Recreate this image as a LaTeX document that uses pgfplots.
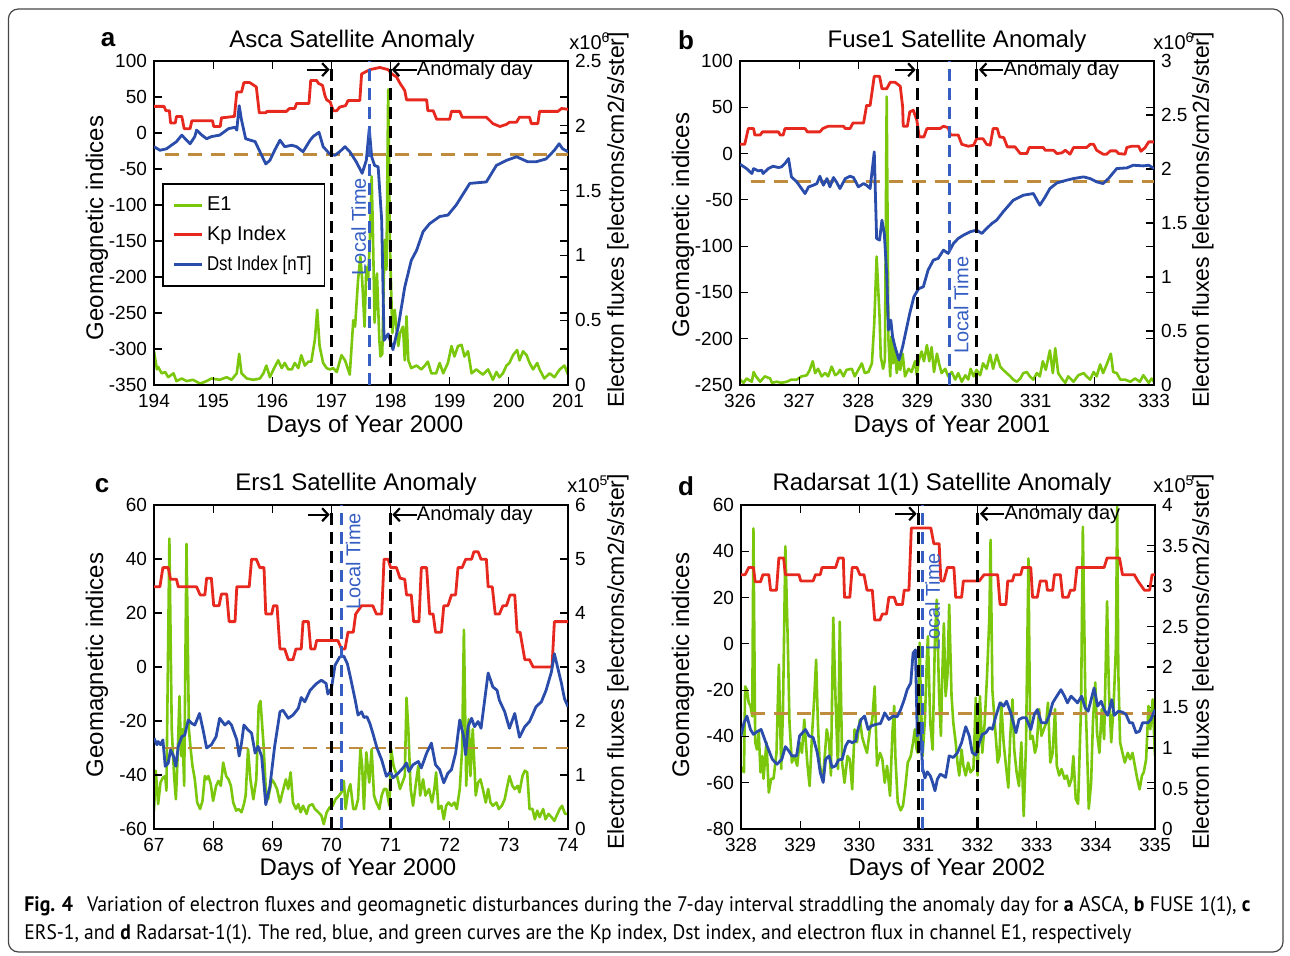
\documentclass[border=0pt]{standalone}
\usepackage{fontspec}
\setmainfont{Liberation Sans}
\newfontfamily\capfont{PT Sans}
\usepackage{graphicx}
\usepackage{pgfplots}
\pgfplotsset{compat=1.18}
\usetikzlibrary{arrows.meta}

\definecolor{kpred}{RGB}{230,40,30}
\definecolor{dstblue}{RGB}{42,76,170}
\definecolor{eonegreen}{RGB}{122,199,12}
\definecolor{thrbrown}{RGB}{190,140,60}
\definecolor{ltblue}{RGB}{55,95,195}
\definecolor{framegray}{RGB}{70,70,70}

\tikzset{
  e1/.style={eonegreen, line width=1.3pt, line join=round},
  kp/.style={kpred, line width=1.4pt, line join=round},
  dst/.style={dstblue, line width=1.4pt, line join=round},
  blackdash/.style={black, line width=1.5pt, dash pattern=on 6pt off 3.5pt},
  bluedash/.style={ltblue, line width=1.5pt, dash pattern=on 6pt off 3.5pt},
  browndash/.style={thrbrown, line width=1.4pt, dash pattern=on 7pt off 4.5pt},
  arr/.style={black, line width=1.1pt, -{Straight Barb[length=3pt,width=6.5pt]}},
}
\pgfplotsset{
  base/.style={scale only axis, width=207pt, height=162pt, anchor=south west,
    tick label style={font=\fontsize{9.5}{10}\selectfont},
    xticklabel style={yshift=-1.2pt},
    /pgf/number format/assume math mode=true,
    scaled ticks=false, major tick length=4pt,
    tick style={black, line width=0.6pt},
    axis line style={black, line width=0.7pt},
    tick align=inside, clip=true},
  rightax/.style={base, axis x line=none, axis y line*=right},
  leftax/.style={base},
}
\newcommand{\annfont}{\fontsize{10}{12}\selectfont}
\newcommand{\titfont}{\fontsize{12}{14}\selectfont}
\newcommand{\labfont}{\fontsize{12}{14}\selectfont}
\newcommand{\rlabfont}{\fontsize{11.5}{13}\selectfont}

\begin{document}
\begin{tikzpicture}
\useasboundingbox (0pt,0pt) rectangle (645pt,478pt);
\draw[framegray, line width=0.6pt, rounded corners=5pt] (4.2pt,2pt) rectangle (641.5pt,473.5pt);

%================ Panel a ================
\begin{axis}[rightax, at={(77pt,285.5pt)}, xmin=194, xmax=201, ymin=0, ymax=2.5,
  ytick={0,0.5,1,1.5,2,2.5}, yticklabels={0,0.5,1,1.5,2,2.5}]
\addplot[e1] coordinates {(194.00,0.26)(194.05,0.12)(194.07,0.14)(194.13,0.09)(194.19,0.10)(194.24,0.06)(194.33,0.09)(194.38,0.03)(194.47,0.05)(194.55,0.03)(194.66,0.04)(194.78,0.01)(194.89,0.03)(194.97,0.05)(195.11,0.04)(195.23,0.06)(195.31,0.04)(195.40,0.09)(195.44,0.24)(195.48,0.09)(195.57,0.05)(195.68,0.04)(195.79,0.05)(195.85,0.09)(195.90,0.15)(195.96,0.06)(196.02,0.12)(196.10,0.19)(196.16,0.13)(196.21,0.17)(196.27,0.12)(196.33,0.12)(196.38,0.17)(196.44,0.13)(196.49,0.23)(196.55,0.15)(196.61,0.18)(196.66,0.18)(196.72,0.35)(196.76,0.58)(196.80,0.30)(196.86,0.17)(196.92,0.13)(196.97,0.12)(197.03,0.13)(197.09,0.10)(197.17,0.23)(197.23,0.19)(197.31,0.08)(197.37,0.50)(197.40,0.45)(197.45,0.81)(197.49,0.99)(197.52,0.81)(197.56,0.45)(197.59,0.91)(197.62,0.81)(197.65,1.12)(197.68,1.61)(197.70,1.22)(197.73,0.48)(197.77,0.86)(197.81,0.35)(197.83,0.22)(197.86,0.24)(197.90,1.12)(197.93,0.89)(197.96,2.28)(197.99,1.07)(198.03,0.40)(198.07,0.58)(198.13,0.30)(198.16,0.40)(198.21,0.45)(198.24,0.19)(198.27,0.53)(198.30,0.19)(198.35,0.13)(198.44,0.15)(198.52,0.12)(198.58,0.15)(198.63,0.18)(198.69,0.09)(198.77,0.09)(198.83,0.17)(198.89,0.09)(198.97,0.17)(199.03,0.30)(199.08,0.22)(199.14,0.30)(199.20,0.31)(199.25,0.22)(199.31,0.26)(199.37,0.09)(199.45,0.12)(199.56,0.08)(199.65,0.12)(199.73,0.04)(199.79,0.10)(199.84,0.06)(199.90,0.09)(199.96,0.15)(200.01,0.17)(200.07,0.23)(200.14,0.27)(200.18,0.19)(200.24,0.26)(200.30,0.23)(200.35,0.17)(200.41,0.12)(200.48,0.17)(200.52,0.12)(200.60,0.05)(200.69,0.09)(200.77,0.06)(200.86,0.12)(200.94,0.15)(201.00,0.08)};
\end{axis}
\begin{axis}[leftax, at={(77pt,285.5pt)}, xmin=194, xmax=201, ymin=-350, ymax=100,
  xtick={194,...,201}, ytick={-350,-300,...,100},
  legend style={at={(0.0205,0.623)}, anchor=north west, draw=black, line width=0.8pt,
    font=\fontsize{10}{12}\selectfont, row sep=2.1pt, inner xsep=4.5pt, inner ysep=4.5pt},
  legend cell align=left,
  legend image code/.code={\draw[#1] (0pt,0pt) -- (14pt,0pt);}]
\addlegendimage{e1}\addlegendentry{E1}
\addlegendimage{kp}\addlegendentry{Kp Index}
\addlegendimage{dst}\addlegendentry{\scalebox{0.84}[1]{Dst Index [nT]}}
\draw[browndash] (axis cs:194.19,-30) -- (axis cs:201,-30);
\addplot[kp] coordinates {(194.00,37)(194.17,37)(194.20,31)(194.26,31)(194.28,14)(194.36,14)(194.38,23)(194.47,23)(194.51,6)(194.61,6)(194.64,17)(194.99,17)(195.01,9)(195.12,9)(195.14,21)(195.36,23)(195.40,57)(195.48,57)(195.52,70)(195.62,70)(195.73,64)(195.78,28)(195.89,28)(195.91,30)(196.24,30)(196.29,34)(196.38,34)(196.41,41)(196.62,41)(196.65,73)(196.75,73)(196.78,69)(196.85,66)(196.89,52)(196.92,46)(196.98,43)(197.03,31)(197.09,31)(197.14,36)(197.24,38)(197.28,45)(197.48,45)(197.51,82)(197.65,88)(197.82,91)(197.96,88)(198.02,82)(198.10,78)(198.16,69)(198.24,59)(198.27,46)(198.38,46)(198.61,46)(198.63,31)(198.72,31)(198.78,19)(199.00,19)(199.03,30)(199.17,30)(199.21,22)(199.62,22)(199.73,13)(199.85,9)(199.96,12)(200.01,15)(200.13,15)(200.18,22)(200.35,22)(200.38,13)(200.49,13)(200.52,30)(200.83,30)(200.89,34)(201.00,33)};
\addplot[dst] coordinates {(194.00,-19)(194.10,-24)(194.21,-22)(194.38,-12)(194.47,-3)(194.55,-10)(194.61,-15)(194.69,-5)(194.72,4)(194.81,-3)(194.89,-8)(194.97,-5)(195.11,-3)(195.26,6)(195.37,8)(195.40,4)(195.44,38)(195.48,18)(195.55,-8)(195.71,-12)(195.82,-31)(195.89,-43)(195.96,-38)(196.04,-24)(196.13,-10)(196.21,-19)(196.33,-17)(196.41,-19)(196.52,-26)(196.64,-10)(196.69,-5)(196.79,1)(196.86,-19)(196.97,-29)(197.06,-31)(197.14,-26)(197.23,-19)(197.31,-26)(197.42,-40)(197.52,-56)(197.59,-38)(197.64,6)(197.68,-33)(197.73,-45)(197.79,-47)(197.85,-121)(197.89,-288)(197.96,-279)(198.04,-301)(198.13,-269)(198.24,-214)(198.35,-177)(198.44,-163)(198.55,-137)(198.66,-126)(198.83,-116)(198.97,-114)(199.11,-100)(199.34,-70)(199.62,-68)(199.79,-45)(199.96,-38)(200.13,-33)(200.32,-40)(200.46,-40)(200.63,-36)(200.77,-24)(200.85,-15)(200.91,-22)(201.00,-26)};
\draw[blackdash] (axis cs:197,-350) -- (axis cs:197,100);
\draw[blackdash] (axis cs:198,-350) -- (axis cs:198,100);
\draw[bluedash] (axis cs:197.65,-350) -- (axis cs:197.65,100);
\draw[arr] (axis cs:196.58,88) -- (axis cs:196.97,88);
\draw[arr] (axis cs:198.44,88) -- (axis cs:198.02,88);
\node[anchor=west, inner sep=0pt, font=\annfont] at (axis cs:198.44,87) {Anomaly day};
\node[rotate=90, inner sep=0pt, font=\annfont, text=ltblue] at (axis cs:197.46,-130) {Local Time};
\end{axis}

%================ Panel b ================
\begin{axis}[rightax, at={(370pt,285.5pt)}, xmin=326, xmax=333, ymin=0, ymax=3,
  ytick={0,0.5,1,1.5,2,2.5,3}, yticklabels={0,0.5,1,1.5,2,2.5,3}]
\addplot[e1] coordinates {(326.00,0.05)(326.06,0.02)(326.11,0.06)(326.20,0.03)(326.23,0.12)(326.27,0.08)(326.34,0.03)(326.42,0.08)(326.51,0.06)(326.54,0.02)(326.62,0.03)(326.70,0.02)(326.79,0.03)(326.87,0.05)(326.96,0.05)(327.04,0.08)(327.13,0.09)(327.18,0.14)(327.23,0.22)(327.27,0.11)(327.32,0.15)(327.38,0.08)(327.44,0.11)(327.49,0.08)(327.55,0.17)(327.61,0.09)(327.66,0.11)(327.69,0.14)(327.75,0.08)(327.80,0.14)(327.89,0.15)(327.94,0.08)(328.00,0.14)(328.06,0.20)(328.11,0.11)(328.17,0.12)(328.23,0.20)(328.27,0.57)(328.31,1.19)(328.36,0.63)(328.38,0.26)(328.42,0.15)(328.45,0.23)(328.48,2.67)(328.51,0.42)(328.54,0.08)(328.56,0.45)(328.59,0.20)(328.62,0.35)(328.65,0.11)(328.68,0.23)(328.71,0.14)(328.75,0.29)(328.79,0.08)(328.85,0.15)(328.90,0.12)(328.96,0.22)(328.99,0.09)(329.02,0.22)(329.07,0.31)(329.11,0.22)(329.16,0.37)(329.20,0.22)(329.24,0.35)(329.28,0.12)(329.33,0.29)(329.37,0.19)(329.41,0.11)(329.47,0.15)(329.52,0.08)(329.58,0.12)(329.64,0.05)(329.69,0.11)(329.75,0.03)(329.81,0.09)(329.86,0.05)(329.90,0.15)(329.95,0.08)(330.00,0.14)(330.06,0.09)(330.11,0.20)(330.17,0.15)(330.23,0.28)(330.28,0.15)(330.34,0.28)(330.40,0.17)(330.45,0.14)(330.51,0.11)(330.57,0.08)(330.62,0.05)(330.68,0.03)(330.74,0.06)(330.79,0.11)(330.85,0.12)(330.90,0.08)(330.96,0.05)(331.02,0.11)(331.07,0.08)(331.12,0.22)(331.17,0.14)(331.24,0.32)(331.29,0.11)(331.33,0.34)(331.38,0.11)(331.44,0.06)(331.50,0.02)(331.55,0.08)(331.64,0.03)(331.72,0.09)(331.81,0.11)(331.86,0.08)(331.92,0.05)(331.98,0.12)(332.03,0.08)(332.09,0.19)(332.14,0.11)(332.20,0.19)(332.27,0.29)(332.31,0.12)(332.37,0.11)(332.43,0.05)(332.51,0.05)(332.60,0.03)(332.68,0.06)(332.76,0.03)(332.82,0.09)(332.91,0.02)(332.96,0.06)(333.00,0.03)};
\end{axis}
\begin{axis}[leftax, at={(370pt,285.5pt)}, xmin=326, xmax=333, ymin=-250, ymax=100,
  xtick={326,...,333}, ytick={-250,-200,...,100}]
\draw[browndash] (axis cs:326.18,-30) -- (axis cs:333,-30);
\addplot[kp] coordinates {(326.00,10)(326.08,10)(326.14,27)(326.23,27)(326.25,20)(326.34,20)(326.38,23.4)(326.65,23.4)(326.68,20)(326.73,20)(326.76,27)(327.10,27)(327.14,23.4)(327.35,23.4)(327.40,27)(327.49,29.5)(327.75,29.5)(327.78,27)(327.86,27)(327.91,33)(328.09,33)(328.14,52)(328.20,52)(328.27,83.5)(328.36,83.5)(328.40,70)(328.48,70)(328.54,77)(328.62,77)(328.71,72.7)(328.75,50.4)(328.76,29.5)(328.83,29.5)(328.87,45)(328.93,46.8)(328.99,36)(329.03,18)(329.11,18)(329.16,27)(329.38,27)(329.44,29.5)(329.52,28)(329.56,20)(329.69,20)(329.75,10)(329.86,7.9)(329.95,9)(330.00,16)(330.11,16)(330.17,10)(330.23,9)(330.28,27)(330.35,27)(330.39,18)(330.46,17.3)(330.52,7.2)(330.65,7.2)(330.74,0)(330.85,0)(330.89,6.5)(331.13,6.5)(331.16,3.6)(331.30,3.6)(331.36,0)(331.44,0.7)(331.50,3.6)(331.58,-0.7)(331.64,6.5)(331.86,6.5)(331.92,10)(331.98,10)(332.03,3.6)(332.14,-0.7)(332.20,-0.7)(332.26,2.9)(332.36,2.9)(332.40,0)(332.51,-0.7)(332.54,6.5)(332.62,7.9)(332.74,7.9)(332.78,2.5)(332.85,6.5)(332.91,12.6)(333.00,12.6)};
\addplot[dst] coordinates {(326.00,-11.5)(326.11,-16.2)(326.20,-21.6)(326.23,-16.2)(326.31,-18.7)(326.37,-18)(326.39,-21.6)(326.48,-16.2)(326.56,-13.7)(326.65,-15.1)(326.70,-14.4)(326.76,-10.8)(326.82,-5.4)(326.87,-25.2)(326.96,-30.6)(327.04,-37.8)(327.10,-43.2)(327.16,-36)(327.24,-34.2)(327.30,-32.4)(327.35,-24.5)(327.41,-34.2)(327.47,-27)(327.52,-36)(327.58,-25.9)(327.63,-30.6)(327.69,-37.8)(327.78,-27)(327.86,-24.5)(327.92,-25.9)(328.00,-36)(328.09,-32.4)(328.14,-34.2)(328.20,-37.8)(328.27,1.8)(328.31,-91.7)(328.36,-93.5)(328.40,-71.9)(328.44,-86.3)(328.48,-129.5)(328.51,-190.6)(328.55,-179.9)(328.58,-197.8)(328.62,-208.6)(328.69,-223)(328.75,-208.6)(328.81,-190.6)(328.87,-172.7)(328.94,-154.7)(329.02,-146)(329.10,-143.9)(329.18,-125.9)(329.27,-115.1)(329.35,-113.3)(329.44,-104.3)(329.52,-107.9)(329.61,-97.1)(329.69,-91.7)(329.78,-88.1)(329.89,-84.5)(330.00,-82.7)(330.09,-86.3)(330.17,-80.9)(330.26,-75.5)(330.34,-71.9)(330.45,-62.9)(330.62,-50.4)(330.79,-45)(330.96,-43.2)(331.07,-55.8)(331.16,-46.8)(331.24,-37.8)(331.36,-31.7)(331.52,-28.8)(331.64,-27)(331.81,-25.2)(331.92,-27)(332.03,-30.6)(332.14,-32.4)(332.23,-27)(332.37,-16.2)(332.54,-15.5)(332.65,-12.6)(332.82,-13.3)(332.91,-12.6)(333.00,-16.2)};
\draw[blackdash] (axis cs:329,-250) -- (axis cs:329,100);
\draw[blackdash] (axis cs:330,-250) -- (axis cs:330,100);
\draw[bluedash] (axis cs:329.54,-250) -- (axis cs:329.54,100);
\draw[arr] (axis cs:328.62,90.5) -- (axis cs:328.97,90.5);
\draw[arr] (axis cs:330.45,90.5) -- (axis cs:330.04,90.5);
\node[anchor=west, inner sep=0pt, font=\annfont] at (axis cs:330.45,89.5) {Anomaly day};
\node[rotate=90, inner sep=0pt, font=\annfont, text=ltblue] at (axis cs:329.74,-164) {Local Time};
\end{axis}

%================ Panel c ================
\begin{axis}[rightax, at={(77pt,63.5pt)}, xmin=67, xmax=74, ymin=0, ymax=6,
  ytick={0,1,2,3,4,5,6}, yticklabels={0,1,2,3,4,5,6}]
\addplot[e1] coordinates {(67.00,0.34)(67.03,1.08)(67.07,0.46)(67.11,0.86)(67.15,0.95)(67.19,0.98)(67.21,0.71)(67.26,5.38)(67.30,1.85)(67.34,0.98)(67.37,0.55)(67.40,1.35)(67.43,2.46)(67.46,1.35)(67.48,1.85)(67.51,0.80)(67.55,5.28)(67.59,1.85)(67.62,1.48)(67.65,1.17)(67.69,0.92)(67.73,0.49)(67.78,0.37)(67.82,0.52)(67.86,0.98)(67.89,0.92)(67.92,0.98)(67.96,0.83)(68.00,0.52)(68.05,0.80)(68.09,0.89)(68.13,0.80)(68.17,1.23)(68.22,0.98)(68.26,0.92)(68.30,0.80)(68.34,0.49)(68.39,0.34)(68.43,0.37)(68.48,0.31)(68.52,0.46)(68.55,0.62)(68.59,1.48)(68.63,0.92)(68.68,0.55)(68.73,0.92)(68.77,2.28)(68.80,2.37)(68.85,1.60)(68.89,0.74)(68.93,0.55)(68.99,0.92)(69.03,0.86)(69.08,0.74)(69.13,0.49)(69.18,0.71)(69.23,0.92)(69.27,0.74)(69.31,1.05)(69.35,0.49)(69.40,0.37)(69.44,0.46)(69.48,0.31)(69.52,0.43)(69.58,0.28)(69.62,0.43)(69.68,0.46)(69.72,0.37)(69.78,0.31)(69.83,0.25)(69.87,0.09)(69.92,0.31)(69.97,0.40)(70.02,0.43)(70.07,0.55)(70.13,0.62)(70.17,0.68)(70.21,0.89)(70.24,0.37)(70.28,0.68)(70.32,0.83)(70.37,0.37)(70.41,0.37)(70.45,0.55)(70.49,1.48)(70.52,1.17)(70.55,0.37)(70.59,1.42)(70.64,0.86)(70.68,1.48)(70.72,0.62)(70.76,0.49)(70.81,0.37)(70.85,0.62)(70.89,0.74)(70.93,0.74)(70.98,0.43)(71.01,1.48)(71.05,1.17)(71.11,0.98)(71.16,0.74)(71.20,0.86)(71.24,0.98)(71.27,2.43)(71.30,1.85)(71.34,0.74)(71.38,0.43)(71.43,0.86)(71.47,1.17)(71.50,0.62)(71.55,0.92)(71.59,0.62)(71.65,0.74)(71.70,0.49)(71.74,0.74)(71.77,1.05)(71.81,0.37)(71.86,0.43)(71.90,0.18)(71.94,0.43)(71.98,0.49)(72.03,0.43)(72.08,0.49)(72.12,0.37)(72.17,0.74)(72.21,1.48)(72.24,3.69)(72.28,0.80)(72.32,2.03)(72.35,0.98)(72.39,1.85)(72.44,0.62)(72.48,0.86)(72.52,0.92)(72.56,0.74)(72.61,0.49)(72.65,0.74)(72.69,0.49)(72.73,0.43)(72.79,0.49)(72.83,0.37)(72.88,0.43)(72.93,0.55)(72.97,0.77)(73.01,0.98)(73.06,0.80)(73.10,0.74)(73.15,0.80)(73.18,0.68)(73.23,0.98)(73.27,1.08)(73.31,1.05)(73.35,0.37)(73.40,0.37)(73.44,0.18)(73.48,0.34)(73.52,0.22)(73.58,0.37)(73.62,0.18)(73.67,0.28)(73.72,0.22)(73.77,0.15)(73.81,0.25)(73.86,0.37)(73.90,0.43)(73.95,0.28)(74.00,0.28)};
\end{axis}
\begin{axis}[leftax, at={(77pt,63.5pt)}, xmin=67, xmax=74, ymin=-60, ymax=60,
  xtick={67,...,74}, ytick={-60,-40,...,60}]
\draw[browndash] (axis cs:67.19,-30) -- (axis cs:74,-30);
\addplot[kp] coordinates {(67.00,29.7)(67.10,29.7)(67.15,36.8)(67.24,36.8)(67.28,32.5)(67.38,32.5)(67.41,29.7)(67.72,29.7)(67.78,26.7)(67.86,26.7)(67.89,32.9)(67.97,32.9)(68.01,22.7)(68.10,22.7)(68.14,27)(68.23,27)(68.27,16.8)(68.37,16.8)(68.40,29.7)(68.61,29.7)(68.65,39.9)(68.73,39.9)(68.79,36.8)(68.86,36.8)(68.89,19.6)(68.99,19.6)(69.02,22.7)(69.08,22.7)(69.13,6.7)(69.21,6.7)(69.27,2.7)(69.35,2.7)(69.40,6.7)(69.49,6.7)(69.52,16.8)(69.61,16.8)(69.65,6.7)(69.72,6.7)(69.75,9.8)(70.11,9.8)(70.17,6.7)(70.23,6.7)(70.28,12.9)(70.37,12.9)(70.41,19.6)(70.51,22.7)(70.70,22.7)(70.76,19.6)(70.85,19.6)(70.89,39.9)(70.96,39.9)(71.00,36.8)(71.10,36.8)(71.16,32.9)(71.24,32.5)(71.27,26.7)(71.35,26.7)(71.39,16.8)(71.48,16.8)(71.52,36.8)(71.61,36.8)(71.66,19.6)(71.72,19.6)(71.76,12.9)(71.86,12.9)(71.90,22.7)(71.97,22.7)(72.03,26.7)(72.10,26.7)(72.14,36.8)(72.21,36.8)(72.27,39.9)(72.37,39.9)(72.41,42.7)(72.48,42.7)(72.53,39.9)(72.62,39.9)(72.65,29.7)(72.72,29.7)(72.77,19.6)(72.84,19.6)(72.90,22.7)(72.96,22.7)(73.02,26.7)(73.10,26.7)(73.14,12.9)(73.19,12.9)(73.27,2.7)(73.35,2.7)(73.41,0)(73.73,0)(73.77,16.8)(74.00,16.8)};
\addplot[dst] coordinates {(67.00,-26.4)(67.05,-28.8)(67.07,-27.6)(67.11,-28.8)(67.15,-27)(67.19,-36.8)(67.24,-35.6)(67.28,-30.7)(67.33,-33.1)(67.37,-36.8)(67.41,-29.4)(67.47,-25.8)(67.52,-25.2)(67.58,-19.6)(67.64,-20.9)(67.69,-21.5)(67.77,-17.2)(67.83,-23.3)(67.89,-30)(67.97,-28.8)(68.05,-25.8)(68.11,-19)(68.20,-21.5)(68.26,-20.2)(68.31,-21.5)(68.40,-27)(68.44,-33)(68.48,-28.2)(68.52,-21.5)(68.59,-23.3)(68.65,-24.5)(68.71,-31.9)(68.76,-29.4)(68.82,-33.1)(68.89,-51)(68.96,-44.2)(69.04,-29.4)(69.13,-16.6)(69.18,-16)(69.27,-19)(69.35,-17.8)(69.44,-15.3)(69.49,-11.3)(69.55,-12.9)(69.64,-8.6)(69.75,-6.1)(69.83,-4.9)(69.91,-6.1)(69.94,-10)(70.00,-8)(70.06,0.6)(70.14,3.7)(70.21,4)(70.27,1.2)(70.32,-3.7)(70.40,-12)(70.45,-17.8)(70.51,-16.6)(70.55,-18.7)(70.60,-18.4)(70.65,-20.9)(70.70,-24.5)(70.77,-30)(70.85,-34.4)(70.93,-40.5)(71.00,-38.7)(71.04,-41.1)(71.13,-39.3)(71.21,-37.4)(71.27,-35.6)(71.31,-38.7)(71.38,-36.2)(71.47,-35)(71.52,-37.4)(71.61,-31.9)(71.69,-28.2)(71.76,-36.2)(71.83,-38)(71.90,-42.9)(71.97,-39.3)(72.03,-38)(72.10,-31.9)(72.17,-19.6)(72.23,-25.2)(72.27,-32.5)(72.31,-22.1)(72.37,-19)(72.42,-22.1)(72.48,-20.2)(72.53,-22.7)(72.65,-2.2)(72.73,-7.4)(72.80,-8.6)(72.84,-12.3)(72.93,-16.6)(73.01,-22.7)(73.10,-17.2)(73.18,-26)(73.27,-22.1)(73.35,-20.2)(73.46,-14.7)(73.55,-12.9)(73.63,-8.6)(73.72,-1.8)(73.77,4.9)(73.83,-0.6)(73.89,-6.1)(73.94,-11.7)(74.00,-14.7)};
\draw[blackdash] (axis cs:70,-60) -- (axis cs:70,60);
\draw[blackdash] (axis cs:71,-60) -- (axis cs:71,60);
\draw[bluedash] (axis cs:70.17,-60) -- (axis cs:70.17,60);
\draw[arr] (axis cs:69.61,56.4) -- (axis cs:69.97,56.4);
\draw[arr] (axis cs:71.44,56.4) -- (axis cs:71.03,56.4);
\node[anchor=west, inner sep=0pt, font=\annfont] at (axis cs:71.44,56) {Anomaly day};
\node[rotate=90, inner sep=0pt, font=\annfont, text=ltblue] at (axis cs:70.37,39.1) {Local Time};
\end{axis}

%================ Panel d ================
\begin{axis}[rightax, at={(370.5pt,63.5pt)}, xmin=328, xmax=335, ymin=0, ymax=4,
  ytick={0,0.5,1,1.5,2,2.5,3,3.5,4}, yticklabels={0,0.5,1,1.5,2,2.5,3,3.5,4}]
\addplot[e1] coordinates {(328.00,0.76)(328.05,0.70)(328.07,1.76)(328.10,1.72)(328.13,1.56)(328.16,1.52)(328.19,1.39)(328.21,3.71)(328.24,1.07)(328.27,0.98)(328.30,1.19)(328.33,0.70)(328.36,0.90)(328.38,0.62)(328.43,1.07)(328.47,0.45)(328.51,0.62)(328.55,0.62)(328.60,0.94)(328.64,2.03)(328.68,0.74)(328.71,1.48)(328.75,3.49)(328.79,2.34)(328.82,1.31)(328.86,0.82)(328.90,0.90)(328.95,0.78)(328.99,1.07)(329.03,0.94)(329.07,1.35)(329.12,0.82)(329.16,0.53)(329.20,1.15)(329.24,1.64)(329.27,2.09)(329.30,1.31)(329.33,0.82)(329.36,0.66)(329.40,0.74)(329.45,1.23)(329.49,1.07)(329.52,0.66)(329.56,2.61)(329.60,1.56)(329.64,0.74)(329.67,2.56)(329.71,0.82)(329.75,0.57)(329.80,0.90)(329.84,0.86)(329.88,0.49)(329.92,1.23)(329.96,1.07)(330.01,1.35)(330.05,1.13)(330.09,1.03)(330.13,0.94)(330.18,1.23)(330.22,1.35)(330.26,1.76)(330.30,0.78)(330.35,0.94)(330.39,0.86)(330.43,0.57)(330.47,0.78)(330.52,0.41)(330.56,1.19)(330.59,1.52)(330.61,0.90)(330.65,0.33)(330.70,0.23)(330.74,0.29)(330.78,0.53)(330.82,0.82)(330.87,0.90)(330.91,1.07)(330.94,1.23)(330.97,0.98)(330.99,0.94)(331.02,2.30)(331.04,1.64)(331.07,0.90)(331.11,1.35)(331.14,2.05)(331.16,2.38)(331.20,1.31)(331.24,0.98)(331.28,2.38)(331.31,2.83)(331.35,1.64)(331.38,1.15)(331.40,1.81)(331.43,2.54)(331.46,1.64)(331.49,1.89)(331.52,2.77)(331.56,1.64)(331.59,1.31)(331.63,1.07)(331.66,0.82)(331.69,0.66)(331.73,0.98)(331.76,0.78)(331.80,0.66)(331.84,0.82)(331.88,0.70)(331.93,0.74)(331.97,1.62)(332.00,0.66)(332.04,1.64)(332.08,0.94)(332.12,1.31)(332.16,1.89)(332.20,2.63)(332.22,3.57)(332.25,1.72)(332.29,1.31)(332.34,0.82)(332.37,0.90)(332.40,1.56)(332.44,1.07)(332.48,0.78)(332.52,0.51)(332.55,1.11)(332.59,1.60)(332.62,0.98)(332.66,0.70)(332.70,0.53)(332.74,1.07)(332.78,0.16)(332.82,1.07)(332.86,3.34)(332.89,1.11)(332.93,1.15)(332.97,0.94)(333.00,1.03)(333.04,1.48)(333.08,1.15)(333.12,1.23)(333.16,1.31)(333.19,1.56)(333.23,0.82)(333.27,0.94)(333.31,1.48)(333.34,0.78)(333.38,0.66)(333.42,0.74)(333.47,0.62)(333.51,0.66)(333.55,0.53)(333.59,0.62)(333.62,0.90)(333.66,0.37)(333.70,0.31)(333.75,1.52)(333.78,3.73)(333.82,1.72)(333.85,1.03)(333.88,0.25)(333.92,0.57)(333.95,1.31)(333.99,1.81)(334.02,1.19)(334.06,0.94)(334.10,1.48)(334.14,1.11)(334.19,2.81)(334.22,1.72)(334.26,1.07)(334.30,1.52)(334.34,2.26)(334.36,3.98)(334.38,1.93)(334.41,1.07)(334.45,0.94)(334.49,0.82)(334.54,0.94)(334.58,0.86)(334.62,0.94)(334.66,0.78)(334.70,0.62)(334.74,0.49)(334.78,0.66)(334.81,0.70)(334.85,0.86)(334.89,1.52)(334.92,1.23)(334.96,1.60)(335.00,0.90)};
\end{axis}
\begin{axis}[leftax, at={(370.5pt,63.5pt)}, xmin=328, xmax=335, ymin=-80, ymax=60,
  xtick={328,...,335}, ytick={-80,-60,...,60}]
\draw[browndash] (axis cs:328.17,-30) -- (axis cs:335,-30);
\addplot[kp] coordinates {(328.00,29.9)(328.07,29.9)(328.13,33)(328.21,33)(328.24,26.8)(328.33,26.8)(328.37,29.9)(328.47,29.9)(328.50,23.2)(328.60,23.2)(328.64,37.1)(328.72,37.1)(328.75,29.9)(328.98,29.9)(329.01,27.2)(329.22,27.2)(329.26,29.9)(329.34,29.9)(329.37,33)(329.60,33)(329.65,37.1)(329.73,37.1)(329.75,20.1)(329.84,20.1)(329.88,33)(329.96,33)(330.01,29.9)(330.08,29.9)(330.13,23.2)(330.22,23.2)(330.26,10.3)(330.35,10.3)(330.39,12.9)(330.46,12.9)(330.50,20.1)(330.59,20.1)(330.63,17)(330.73,17)(330.76,23.2)(330.84,23.2)(330.88,50.1)(331.21,50.1)(331.26,43.3)(331.35,43.3)(331.38,27.2)(331.43,27.2)(331.49,33)(331.60,33)(331.63,20.1)(331.73,20.1)(331.76,27.2)(332.03,27.2)(332.11,29.9)(332.34,29.9)(332.38,17)(332.48,17)(332.51,27.2)(332.59,27.2)(332.62,29.9)(332.73,29.9)(332.76,33)(332.90,33)(332.93,20.1)(333.01,20.1)(333.06,27.2)(333.16,27.2)(333.18,23.2)(333.27,23.2)(333.30,29.9)(333.40,29.9)(333.44,20.1)(333.53,20.1)(333.57,23.2)(333.64,23.2)(333.68,33)(334.14,33)(334.19,37.1)(334.40,37.1)(334.45,29.9)(334.65,29.9)(334.71,27.2)(334.82,23.2)(334.91,23.2)(334.95,29.9)(335.00,29.9)};
\addplot[dst] coordinates {(328.00,-39.8)(328.05,-34.1)(328.10,-31.2)(328.16,-37)(328.21,-39.1)(328.28,-37.8)(328.34,-37)(328.38,-39.8)(328.44,-44.1)(328.53,-49.9)(328.61,-52)(328.69,-49.9)(328.75,-44.4)(328.81,-46.3)(328.86,-48.4)(328.94,-48.4)(328.99,-39.8)(329.09,-37)(329.15,-39.8)(329.22,-40.5)(329.29,-47)(329.34,-55.6)(329.39,-59.9)(329.43,-49.9)(329.49,-48.4)(329.54,-53.4)(329.60,-52.7)(329.65,-50.1)(329.71,-49.9)(329.77,-44.1)(329.82,-41.9)(329.88,-42.7)(329.94,-41.9)(329.96,-38.4)(330.03,-32.7)(330.09,-31.2)(330.15,-37)(330.20,-35.5)(330.28,-34.8)(330.36,-34.4)(330.43,-29.8)(330.50,-32.7)(330.57,-31.2)(330.64,-31.5)(330.70,-28.4)(330.76,-24.1)(330.81,-19.8)(330.87,-16.9)(330.91,-4)(330.95,-2.6)(330.98,-39.8)(331.03,-34.1)(331.07,-53.7)(331.11,-58)(331.15,-55.3)(331.20,-57)(331.24,-59.9)(331.28,-63.5)(331.32,-58.5)(331.37,-56.3)(331.42,-57)(331.46,-57.7)(331.52,-48.4)(331.59,-49.1)(331.66,-47)(331.73,-42.7)(331.80,-35.8)(331.86,-39.8)(331.91,-47)(331.97,-48.1)(332.03,-42.7)(332.08,-39.1)(332.14,-38.4)(332.20,-36.2)(332.25,-36.9)(332.31,-31.2)(332.38,-25.5)(332.44,-26.9)(332.49,-24.8)(332.56,-29.8)(332.65,-38.4)(332.70,-32.7)(332.76,-31.9)(332.82,-31.9)(332.90,-37)(332.96,-30.5)(333.01,-28.4)(333.08,-34.1)(333.16,-34.1)(333.21,-31.2)(333.27,-25.5)(333.32,-23.4)(333.41,-19.8)(333.47,-22.6)(333.52,-25.5)(333.58,-22.6)(333.64,-24.1)(333.69,-25.5)(333.76,-22.6)(333.82,-27.7)(333.87,-29.1)(333.92,-24.1)(333.97,-19.1)(334.03,-26.9)(334.09,-24.8)(334.14,-28.4)(334.20,-30.9)(334.27,-24.1)(334.31,-30.9)(334.38,-29.1)(334.45,-29.5)(334.51,-30.5)(334.57,-34.1)(334.62,-34.1)(334.68,-38.4)(334.74,-37.7)(334.79,-34.1)(334.88,-34.1)(334.93,-32.7)(335.00,-28.4)};
\draw[blackdash] (axis cs:331,-80) -- (axis cs:331,60);
\draw[blackdash] (axis cs:332,-80) -- (axis cs:332,60);
\draw[bluedash] (axis cs:331.07,-80) -- (axis cs:331.07,60);
\draw[arr] (axis cs:330.61,56.2) -- (axis cs:330.97,56.2);
\draw[arr] (axis cs:332.45,56.2) -- (axis cs:332.04,56.2);
\node[anchor=west, inner sep=0pt, font=\annfont] at (axis cs:332.45,55.8) {Anomaly day};
\node[rotate=90, inner sep=0pt, font=\annfont, text=ltblue] at (axis cs:331.24,18.2) {Local Time};
\end{axis}

%================ Outside texts ================
\node[font=\bfseries\fontsize{13}{15}\selectfont] at (54pt,458pt) {a};
\node[font=\titfont] at (176pt,457.5pt) {Asca Satellite Anomaly};
\node[font=\annfont] at (295pt,457.5pt) {x10\textsuperscript{6}};
\node[font=\labfont] at (182.5pt,265pt) {Days of Year 2000};
\node[font=\labfont, rotate=90] at (48.5pt,364pt) {Geomagnetic indices};
\node[font=\rlabfont, rotate=90] at (309pt,368pt) {Electron fluxes [electrons/cm2/s/ster]};
\node[font=\bfseries\fontsize{13}{15}\selectfont] at (343pt,458pt) {b};
\node[font=\titfont] at (478.5pt,457.5pt) {Fuse1 Satellite Anomaly};
\node[font=\annfont] at (587pt,457.5pt) {x10\textsuperscript{6}};
\node[font=\labfont] at (476pt,265pt) {Days of Year 2001};
\node[font=\labfont, rotate=90] at (341.5pt,365.5pt) {Geomagnetic indices};
\node[font=\rlabfont, rotate=90] at (601.5pt,368pt) {Electron fluxes [electrons/cm2/s/ster]};
\node[font=\bfseries\fontsize{13}{15}\selectfont] at (51pt,235pt) {c};
\node[font=\titfont] at (178pt,236pt) {Ers1 Satellite Anomaly};
\node[font=\annfont] at (294pt,236pt) {x10\textsuperscript{5}};
\node[font=\labfont] at (179pt,43.5pt) {Days of Year 2000};
\node[font=\labfont, rotate=90] at (48.5pt,145.5pt) {Geomagnetic indices};
\node[font=\rlabfont, rotate=90] at (309pt,147pt) {Electron fluxes [electrons/cm2/s/ster]};
\node[font=\bfseries\fontsize{13}{15}\selectfont] at (343pt,235pt) {d};
\node[font=\titfont] at (471pt,236pt) {Radarsat 1(1) Satellite Anomaly};
\node[font=\annfont] at (587pt,236pt) {x10\textsuperscript{5}};
\node[font=\labfont] at (473.5pt,43.5pt) {Days of Year 2002};
\node[font=\labfont, rotate=90] at (341.5pt,145.5pt) {Geomagnetic indices};
\node[font=\rlabfont, rotate=90] at (601.5pt,147pt) {Electron fluxes [electrons/cm2/s/ster]};
\node[anchor=base west, inner sep=0pt] at (12pt,22pt) {\resizebox{613pt}{\height}{\capfont\fontsize{10.5}{12}\selectfont\textbf{Fig. 4}\hspace{0.7em}Variation of electron fluxes and geomagnetic disturbances during the 7-day interval straddling the anomaly day for \textbf{a} ASCA, \textbf{b} FUSE 1(1), \textbf{c}}};
\node[anchor=base west, inner sep=0pt] at (12pt,8pt) {\resizebox{553.5pt}{\height}{\capfont\fontsize{10.5}{12}\selectfont ERS-1, and \textbf{d} Radarsat-1(1). The red, blue, and green curves are the Kp index, Dst index, and electron flux in channel E1, respectively}};
\end{tikzpicture}
\end{document}
